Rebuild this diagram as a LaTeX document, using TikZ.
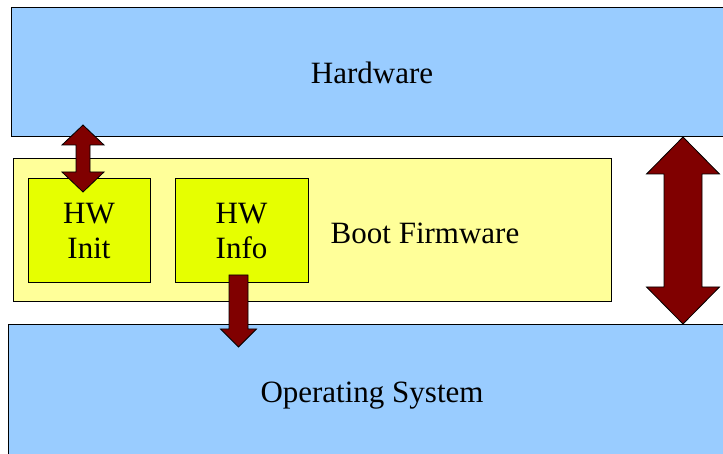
\documentclass[tikz,border=0pt]{standalone}
\usepackage{fontspec}
\newfontfamily\boxfont{Liberation Serif}
\usepackage{tikz}
\tikzset{
  layer/.style={draw=black, line width=1pt, fill=hwblue, inner sep=0pt,
    font=\boxfont\fontsize{31}{34}\selectfont},
  fwbox/.style={draw=black, line width=1pt, fill=fwyellow, inner sep=0pt},
  unit/.style={draw=black, line width=1pt, fill=unityellow, inner sep=0pt,
    align=center, font=\boxfont\fontsize{31}{35}\selectfont},
  fwtext/.style={inner sep=0pt, font=\boxfont\fontsize{31}{34}\selectfont},
  blockarrow/.style={draw=black, line width=0.8pt, fill=arrowred, line join=miter},
}
\definecolor{hwblue}{RGB}{153,204,255}
\definecolor{fwyellow}{RGB}{255,255,153}
\definecolor{unityellow}{RGB}{230,255,0}
\definecolor{arrowred}{RGB}{128,0,0}
\begin{document}
\begin{tikzpicture}[x=1pt, y=-1pt]
  \useasboundingbox (0,0) rectangle (723,454);
  \clip (0,0) rectangle (723,454);
  % layers
  \node[layer, minimum width=722pt, minimum height=129pt] (hw) at (372,72.5) {Hardware};
  \node[layer, minimum width=728pt, minimum height=141pt] (os) at (372,395.5) {Operating System};
  % firmware and its parts
  \node[fwbox, minimum width=598pt, minimum height=143pt] (fw) at (312,230.5) {};
  \node[unit, minimum width=122pt, minimum height=104pt] (init) at (89,231) {HW\\Init};
  \node[unit, minimum width=133pt, minimum height=104pt] (info) at (241.5,231) {HW\\Info};
  \node[fwtext] (fwlabel) at (425,233) {Boot Firmware};
  % arrow tips
  \coordinate (initTop) at (83,125);
  \coordinate (infoTop) at (229,275);
  \coordinate (fwTop) at (683,137);
  % hardware <-> init
  \draw[blockarrow] (initTop) -- ++(21,20) -- ++(-14,0) -- ++(0,27) -- ++(14,0)
    -- ++(-21,20) -- ++(-21,-20) -- ++(14,0) -- ++(0,-27) -- ++(-14,0) -- cycle;
  % info -> os
  \draw[blockarrow] (infoTop) -- ++(19,0) -- ++(0,54) -- ++(8.5,0) -- ++(-18,18)
    -- ++(-18,-18) -- ++(8.5,0) -- cycle;
  % hardware <-> os
  \draw[blockarrow] (fwTop) -- ++(36.5,37) -- ++(-17.5,0) -- ++(0,113) -- ++(17.5,0)
    -- ++(-36.5,37) -- ++(-36.5,-37) -- ++(17.5,0) -- ++(0,-113) -- ++(-17.5,0) -- cycle;
\end{tikzpicture}
\end{document}
